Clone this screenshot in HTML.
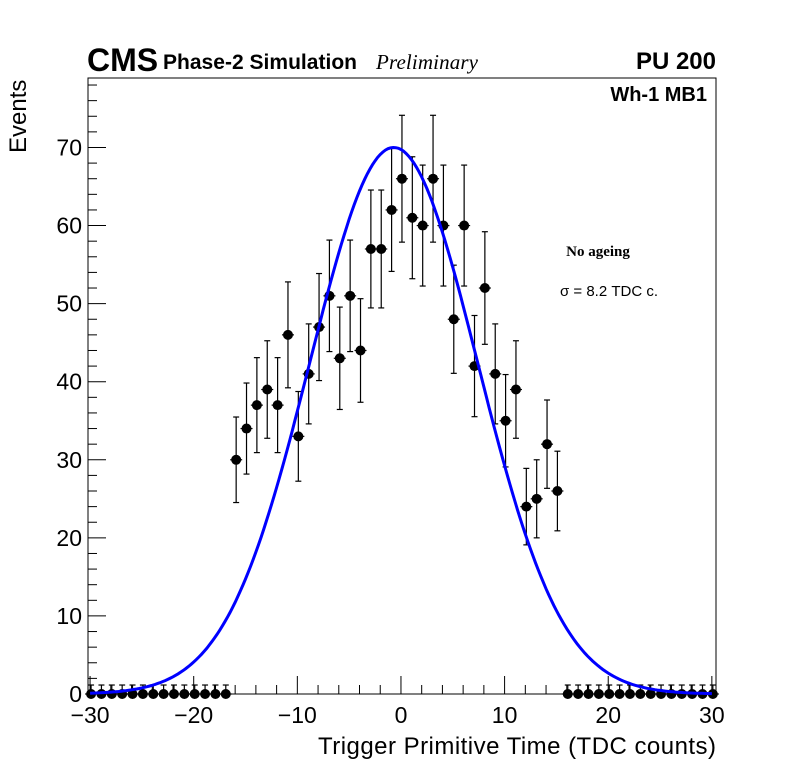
<!DOCTYPE html>
<html><head><meta charset="utf-8"><style>
body{margin:0;background:#fff;}
svg text{font-family:"Liberation Sans",sans-serif;}
</style></head><body>
<svg id="c" width="796" height="772" xmlns="http://www.w3.org/2000/svg">
<rect width="796" height="772" fill="#fff"/>
<g id="g"></g>
<text x="87" y="71" font-size="32" font-weight="bold">CMS</text>
<text x="163" y="69" font-size="21" font-weight="bold" textLength="194">Phase-2 Simulation</text>
<text x="376" y="69" font-size="21" font-style="italic" style="font-family:'Liberation Serif',serif" textLength="102">Preliminary</text>
<text x="716" y="69" font-size="24" font-weight="bold" text-anchor="end">PU 200</text>
<text x="707" y="101" font-size="20" font-weight="bold" text-anchor="end">Wh-1 MB1</text>
<text x="598" y="256" font-size="15" font-weight="bold" text-anchor="middle" style="font-family:'Liberation Serif',serif">No ageing</text>
<text x="609" y="296" font-size="15" text-anchor="middle">σ = 8.2 TDC c.</text>
<text x="716" y="754" font-size="24" text-anchor="end" textLength="398">Trigger Primitive Time (TDC counts)</text>
<text transform="translate(26,153) rotate(-90)" font-size="24" text-anchor="start">Events</text>
</svg>
<script>
const binCenters=[-30,-29,-28,-27,-26,-25,-24,-23,-22,-21,-20,-19,-18,-17,-16,-15,-14,-13,-12,-11,-10,-9,-8,-7,-6,-5,-4,-3,-2,-1,0,1,2,3,4,5,6,7,8,9,10,11,12,13,14,15,16,17,18,19,20,21,22,23,24,25,26,27,28,29,30];
const counts=[0,0,0,0,0,0,0,0,0,0,0,0,0,0,30,34,37,39,37,46,33,41,47,51,43,51,44,57,57,62,66,61,60,66,60,48,60,42,52,41,35,39,24,25,32,26,0,0,0,0,0,0,0,0,0,0,0,0,0,0,0];
const fitParams=[70,-0.7,8.1];
const xTicks=[-30,-20,-10,0,10,20,30];
const yTicks=[0,10,20,30,40,50,60,70];
const L=88,R=716,T=78,B=694,x0=-30.2,x1=30.4,y1=78.9;
const X=v=>L+(v-x0)/(x1-x0)*(R-L);
const Y=v=>B-v/y1*(B-T);
const NS="http://www.w3.org/2000/svg",g=document.getElementById('g');
function el(t,a){const e=document.createElementNS(NS,t);for(const k in a)e.setAttribute(k,a[k]);g.appendChild(e);return e;}
let f=el('rect',{x:L,y:T,width:R-L,height:B-T,fill:'none',stroke:'#000','stroke-width':1});


for(let v=-30;v<=30;v+=2){const maj=v%10===0;el('line',{x1:X(v),x2:X(v),y1:B,y2:B-(maj?18:9),stroke:'#000'});}
for(let v=0;v<=78;v+=2){const maj=v%10===0;el('line',{x1:L,x2:L+(maj?18:9),y1:Y(v),y2:Y(v),stroke:'#000'});}
xTicks.forEach(v=>{const t=el('text',{x:X(v),y:723,'font-size':23,'text-anchor':'middle'});t.textContent=(v<0?'\u2212'+(-v):v);

});
yTicks.forEach(v=>{const t=el('text',{x:82,y:Y(v)+8,'font-size':23,'text-anchor':'end'});t.textContent=v;

});
binCenters.forEach((c,i)=>{const n=counts[i];const e=n>0?Math.sqrt(n):1.15;const x=X(c)+1;
el('line',{x1:x,x2:x,y1:Y(Math.max(0,n-e)),y2:Y(n+e),stroke:'#000','stroke-width':1.2});
el('line',{x1:x-3,x2:x+3,y1:Y(n+e),y2:Y(n+e),stroke:'#000','stroke-width':1.2});
if(n>0)el('line',{x1:x-3,x2:x+3,y1:Y(n-e),y2:Y(n-e),stroke:'#000','stroke-width':1.2});
el('line',{x1:x-6,x2:x+6,y1:Y(n),y2:Y(n),stroke:'#000','stroke-width':1.2});
const p=el('circle',{cx:x,cy:Y(n),r:5,fill:'#000'});

});
let d='';for(let v=-30;v<=30;v+=0.25){const y=fitParams[0]*Math.exp(-Math.pow(v-fitParams[1],2)/(2*fitParams[2]*fitParams[2]));d+=(d?'L':'M')+X(v).toFixed(1)+','+Y(y).toFixed(1);}
const fit=el('path',{d:d,fill:'none',stroke:'#0000ff','stroke-width':3});


</script>
</body></html>
